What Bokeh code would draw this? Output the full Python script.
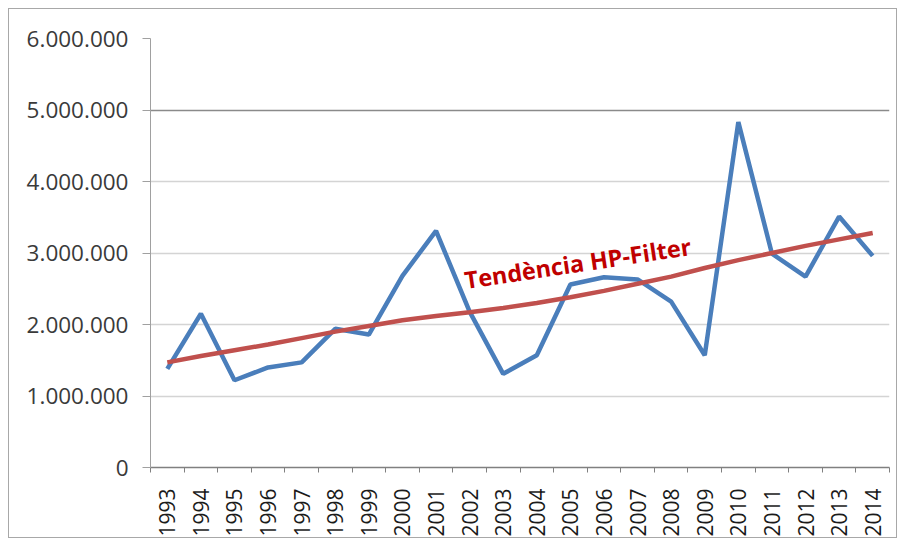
from bokeh.plotting import figure
from bokeh.models import Range1d, FixedTicker, Label, Grid
from bokeh.embed import file_html
from bokeh.resources import INLINE

years = list(range(1993, 2015))
values = [1380000, 2150000, 1220000, 1400000, 1470000, 1940000, 1860000,
          2680000, 3310000, 2180000, 1310000, 1570000, 2560000, 2660000,
          2630000, 2320000, 1570000, 4830000, 2990000, 2670000, 3510000, 2960000]
trend = [1470000, 1560000, 1640000, 1720000, 1810000, 1900000, 1980000,
         2060000, 2120000, 2170000, 2230000, 2300000, 2380000, 2470000,
         2570000, 2670000, 2790000, 2900000, 3000000, 3100000, 3190000, 3280000]
y_ticks = [0, 1000000, 2000000, 3000000, 4000000, 5000000, 6000000]
trend_label = "Tendència HP-Filter"

p = figure(width=889, height=530, output_backend="svg", toolbar_location=None,
           x_range=Range1d(years[0] - 0.5, years[-1] + 0.5),
           y_range=Range1d(y_ticks[0], y_ticks[-1]),
           min_border_left=141, min_border_right=9, min_border_top=29,
           min_border_bottom=71)
p.outline_line_color = None
p.background_fill_color = "white"
p.border_fill_color = "white"
p.styles = {"border": "1px solid #a8a8a8", "margin": "8px 0 0 8px"}

# axes
p.xaxis.ticker = FixedTicker(ticks=years,
                             minor_ticks=[y - 0.5 for y in years] + [years[-1] + 0.5])
p.xaxis.major_label_overrides = {y: str(y) for y in years}
p.xaxis.major_label_orientation = 1.5707963
p.xaxis.major_tick_line_color = None
p.xaxis.minor_tick_line_color = "#808080"
p.xaxis.minor_tick_out = 5
p.xaxis.minor_tick_in = 0
p.xaxis.axis_line_color = "#808080"
p.xaxis.axis_line_width = 1.5
p.xaxis.major_label_text_font = "Open Sans"
p.xaxis.major_label_text_font_size = "21px"
p.xaxis.major_label_text_color = "#1a1a1a"
p.xaxis.major_label_standoff = 15

p.yaxis.ticker = FixedTicker(ticks=y_ticks)
p.yaxis.major_label_overrides = {t: (f"{t:,}".replace(",", ".")) for t in y_ticks}
p.yaxis.minor_tick_line_color = None
p.yaxis.major_tick_out = 8
p.yaxis.major_tick_in = 0
p.yaxis.major_tick_line_color = "#a0a0a0"
p.yaxis.axis_line_color = "#a0a0a0"
p.yaxis.major_label_text_font = "Open Sans"
p.yaxis.major_label_text_font_size = "22.5px"
p.yaxis.major_label_text_color = "#3a3a3a"
p.yaxis.major_label_standoff = 14

p.xgrid.grid_line_color = None
p.ygrid.ticker = FixedTicker(ticks=y_ticks[1:5])
p.ygrid.grid_line_color = "#d4d4d4"
p.ygrid.grid_line_width = 1.5
p.add_layout(Grid(dimension=1, ticker=FixedTicker(ticks=y_ticks[5:]),
                  grid_line_color="#8a8a8a", grid_line_width=1.5))

p.line(years, values, line_color="#4a7ebb", line_width=4.5)
p.line(years, trend, line_color="#c0504d", line_width=4.5)

p.add_layout(Label(x=2001.85, y=2620000, text=trend_label, angle=0.15,
                   text_font="Open Sans", text_font_style="bold",
                   text_font_size="23.5px", text_color="#c00000",
                   text_baseline="alphabetic", text_align="left"))

open("out.html", "w").write(file_html(p, INLINE))
